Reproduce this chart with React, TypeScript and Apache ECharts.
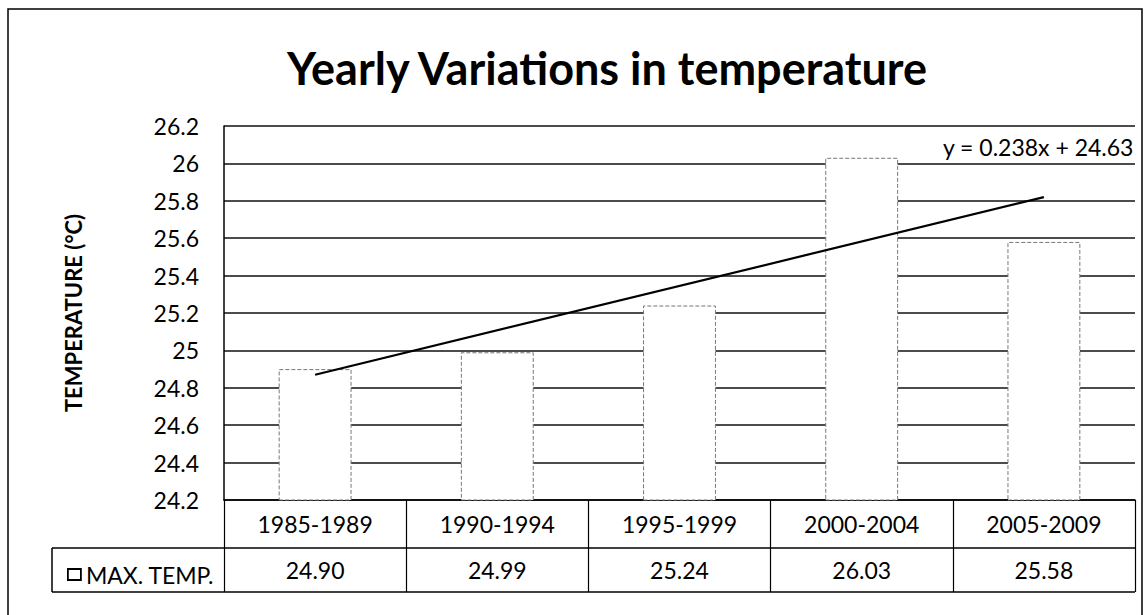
import React, { useEffect, useRef } from "react";
import * as echarts from "echarts";

const CATEGORIES = ["1985-1989", "1990-1994", "1995-1999", "2000-2004", "2005-2009"];
const MAX_TEMP = [24.9, 24.99, 25.24, 26.03, 25.58];
const VALUE_LABELS = ["24.90", "24.99", "25.24", "26.03", "25.58"];
// Linear trendline y = 0.238x + 24.63, read at first and last category
const TREND = [24.87, null, null, null, 25.82];
const TREND_LABEL = "y = 0.238x + 24.63";
const Y_MIN = 24.2;
const Y_MAX = 26.2;
const Y_STEP = 0.2;

const W = 1146;
const H = 615;
const GL = 224;
const GR = 11;
const GT = 126;
const GB = 115;
const FONT = "Lato, 'Noto Sans', sans-serif";
const FS = 23;

export default function App() {
  const ref = useRef<HTMLDivElement>(null);
  useEffect(() => {
    document.body.style.margin = "0";
    const chart = echarts.init(ref.current!, null, { renderer: "svg" });
    const plotBottom = H - GB;
    const row1 = plotBottom + 48;
    const row2 = plotBottom + 92;
    const plotRight = W - GR;
    chart.setOption({
      animation: false,
      backgroundColor: "#fff",
      title: {
        text: "Yearly Variations in temperature",
        left: 282,
        top: 40,
        textStyle: { fontFamily: FONT, fontWeight: "bold", fontSize: 45, color: "#000" },
      },
      legend: {
        left: 62,
        top: row1 + 10,
        icon: "rect",
        itemWidth: 13,
        itemHeight: 11,
        itemGap: 4,
        data: ["MAX. TEMP."],
        itemStyle: { color: "#fff", borderColor: "#000", borderWidth: 1.8 },
        textStyle: { fontFamily: FONT, fontSize: FS, color: "#000", padding: [0, 0, 0, 0] },
      },
      grid: { left: GL, right: GR, top: GT, bottom: GB, containLabel: false },
      xAxis: [
        {
          type: "category",
          data: CATEGORIES,
          boundaryGap: true,
          axisLine: { show: true, lineStyle: { color: "#000", width: 1.5 } },
          axisTick: { show: true, length: 92, interval: 0, lineStyle: { color: "#000", width: 1.2 } },
          axisLabel: {
            margin: 12,
            fontFamily: FONT,
            fontSize: FS,
            color: "#000",
            verticalAlign: "top",
            interval: 0,
          },
        },
        {
          type: "category",
          data: VALUE_LABELS,
          position: "bottom",
          boundaryGap: true,
          axisLine: { show: false },
          axisTick: { show: false },
          axisLabel: {
            margin: 58,
            fontFamily: FONT,
            fontSize: FS,
            color: "#000",
            verticalAlign: "top",
            interval: 0,
          },
        },
      ],
      yAxis: {
        type: "value",
        min: Y_MIN,
        max: Y_MAX,
        interval: Y_STEP,
        name: "TEMPERATURE (°C)",
        nameLocation: "middle",
        nameGap: 140,
        nameRotate: 90,
        nameTextStyle: { fontFamily: FONT, fontWeight: "bold", fontSize: 22, color: "#000" },
        axisLine: { show: true, lineStyle: { color: "#000", width: 1.5 } },
        axisTick: { show: false },
        axisLabel: {
          margin: 25,
          fontFamily: FONT,
          fontSize: FS,
          color: "#000",
          formatter: (v: number) => String(Math.round(v * 10) / 10),
        },
        splitLine: { show: true, lineStyle: { color: "#111", width: 1.7 } },
      },
      series: [
        {
          name: "MAX. TEMP.",
          type: "bar",
          data: MAX_TEMP,
          barWidth: "40%",
          itemStyle: { color: "#fff", borderColor: "#777", borderWidth: 1, borderType: "dashed" },
          z: 2,
        },
        {
          name: "Trend",
          type: "line",
          data: TREND,
          connectNulls: true,
          symbol: "none",
          lineStyle: { color: "#000", width: 2.2 },
          z: 3,
        },
      ],
      graphic: [
        {
          type: "text",
          right: GR + 1,
          top: GT + 9,
          style: { text: TREND_LABEL, fontFamily: FONT, fontSize: FS, fill: "#000" },
          z: 10,
        },
        { type: "line", shape: { x1: 52, y1: row1, x2: plotRight, y2: row1 }, style: { stroke: "#000", lineWidth: 1.5 }, z: 10 },
        { type: "line", shape: { x1: 52, y1: row2, x2: plotRight, y2: row2 }, style: { stroke: "#000", lineWidth: 1.5 }, z: 10 },
        { type: "line", shape: { x1: 52, y1: row1, x2: 52, y2: row2 }, style: { stroke: "#000", lineWidth: 1.5 }, z: 10 },
        {
          type: "rect",
          shape: { x: 8, y: 9, width: W - 12, height: H + 20 },
          style: { fill: "none", stroke: "#000", lineWidth: 1.5 },
          z: 10,
          silent: true,
        },
      ],
    });
    return () => chart.dispose();
  }, []);
  return <div ref={ref} style={{ width: W, height: H }} />;
}
